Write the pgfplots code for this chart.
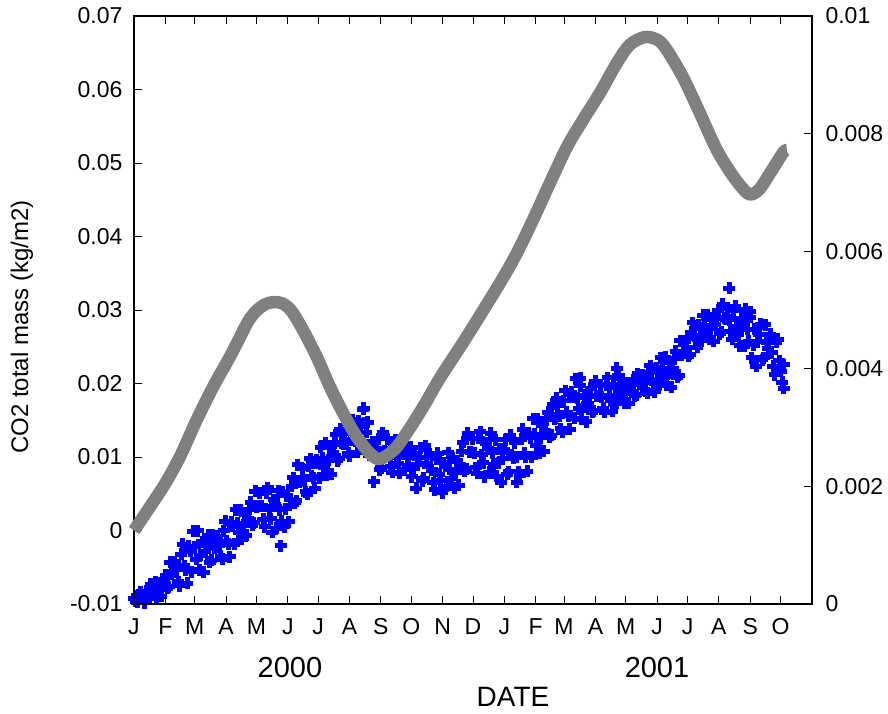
\documentclass[border=0pt]{standalone}
\usepackage{pgfplots}
\pgfplotsset{compat=1.18}
\usepackage{fontspec}
\setmainfont{Liberation Sans}
\definecolor{graycurve}{RGB}{128,128,128}
\definecolor{bluepts}{RGB}{0,0,255}
\pgfplotstableread{
d r
0 0.09e-3
3 0.03e-3
6 0.20e-3
9 0.09e-3
12 0.22e-3
15 0.09e-3
18 0.25e-3
21 0.38e-3
24 0.24e-3
27 0.13e-3
30 0.41e-3
33 0.27e-3
36 0.71e-3
39 0.55e-3
42 0.58e-3
45 0.31e-3
48 1.02e-3
51 0.58e-3
54 0.98e-3
57 0.55e-3
60 0.97e-3
63 1.25e-3
66 0.83e-3
69 0.54e-3
72 1.03e-3
75 0.71e-3
78 1.17e-3
81 0.97e-3
84 1.00e-3
87 0.76e-3
90 1.41e-3
93 1.02e-3
96 1.39e-3
99 1.02e-3
102 1.37e-3
105 1.60e-3
108 1.34e-3
111 1.17e-3
114 1.61e-3
117 1.34e-3
120 1.92e-3
123 1.66e-3
126 1.67e-3
129 1.31e-3
132 1.98e-3
135 1.45e-3
138 1.77e-3
141 1.29e-3
144 1.60e-3
145 0.99e-3
147 1.91e-3
150 1.62e-3
153 1.40e-3
156 2.00e-3
159 1.72e-3
162 2.37e-3
165 2.09e-3
168 2.11e-3
171 1.87e-3
174 2.47e-3
177 2.14e-3
180 2.45e-3
183 2.14e-3
186 2.48e-3
189 2.74e-3
192 2.45e-3
195 2.21e-3
198 2.74e-3
201 2.44e-3
204 2.97e-3
207 2.72e-3
210 2.73e-3
213 2.52e-3
216 3.13e-3
219 2.78e-3
222 3.12e-3
225 2.76e-3
227 3.33e-3
228 3.08e-3
231 3.09e-3
234 2.53e-3
237 2.08e-3
240 2.65e-3
243 2.28e-3
246 2.91e-3
249 2.59e-3
252 2.55e-3
255 2.24e-3
258 2.79e-3
261 2.39e-3
264 2.61e-3
267 2.29e-3
270 2.49e-3
273 2.67e-3
276 2.32e-3
279 1.97e-3
282 2.50e-3
285 2.10e-3
288 2.69e-3
291 2.33e-3
294 2.28e-3
297 1.94e-3
300 2.56e-3
303 2.10e-3
306 2.40e-3
309 2.00e-3
312 2.29e-3
315 2.49e-3
318 2.23e-3
321 2.02e-3
324 2.60e-3
327 2.26e-3
330 2.90e-3
333 2.58e-3
336 2.56e-3
339 2.22e-3
342 2.93e-3
345 2.40e-3
348 2.73e-3
351 2.24e-3
354 2.57e-3
357 2.79e-3
360 2.40e-3
363 2.07e-3
366 2.63e-3
369 2.21e-3
372 2.87e-3
375 2.49e-3
378 2.50e-3
378 2.07e-3
381 2.18e-3
384 2.97e-3
387 2.50e-3
390 2.90e-3
393 2.50e-3
396 2.89e-3
399 3.15e-3
402 2.83e-3
405 2.60e-3
408 3.13e-3
411 2.84e-3
414 3.40e-3
417 3.17e-3
418 3.50e-3
420 3.19e-3
423 2.92e-3
426 3.63e-3
429 3.20e-3
432 3.60e-3
435 3.16e-3
438 3.51e-3
441 3.71e-3
441 3.84e-3
444 3.35e-3
447 3.10e-3
450 3.55e-3
453 3.26e-3
456 3.79e-3
459 3.53e-3
462 3.52e-3
465 3.26e-3
468 3.85e-3
471 3.46e-3
474 3.74e-3
477 3.41e-3
477 4.01e-3
480 3.66e-3
483 3.82e-3
486 3.58e-3
489 3.41e-3
492 3.73e-3
495 3.54e-3
498 3.92e-3
501 3.76e-3
504 3.77e-3
507 3.58e-3
510 4.05e-3
513 3.76e-3
516 4.02e-3
519 3.72e-3
522 4.00e-3
525 4.20e-3
528 3.93e-3
531 3.69e-3
534 4.17e-3
537 3.86e-3
540 4.48e-3
543 4.30e-3
546 4.37e-3
549 4.25e-3
552 4.78e-3
555 4.51e-3
558 4.75e-3
561 4.48e-3
564 4.74e-3
567 4.92e-3
570 4.68e-3
573 4.47e-3
576 4.88e-3
579 4.60e-3
582 5.10e-3
585 4.84e-3
588 4.83e-3
588 5.37e-3
591 4.50e-3
594 5.06e-3
597 4.59e-3
600 4.86e-3
603 4.38e-3
606 4.67e-3
609 4.88e-3
609 4.97e-3
612 4.41e-3
615 4.04e-3
618 4.59e-3
621 4.15e-3
624 4.75e-3
627 4.35e-3
630 4.27e-3
633 3.90e-3
636 4.50e-3
639 3.96e-3
642 4.07e-3
642 3.67e-3
}\bluedata
\pgfplotstableread{
d r
1.5 0.05e-3
4.5 0.15e-3
7.5 0.11e-3
10.5 0.02e-3
13.5 0.20e-3
16.5 0.34e-3
19.5 0.17e-3
22.5 0.12e-3
25.5 0.34e-3
28.5 0.30e-3
31.5 0.49e-3
34.5 0.29e-3
37.5 0.51e-3
40.5 0.72e-3
43.5 0.38e-3
46.5 0.85e-3
49.5 0.65e-3
52.5 0.35e-3
55.5 0.90e-3
58.5 1.24e-3
61.5 0.76e-3
64.5 0.58e-3
67.5 1.06e-3
70.5 0.90e-3
73.5 1.17e-3
76.5 0.74e-3
79.5 0.95e-3
82.5 1.15e-3
85.5 0.81e-3
88.5 1.25e-3
91.5 1.07e-3
94.5 0.80e-3
97.5 1.32e-3
100.5 1.60e-3
103.5 1.21e-3
106.5 1.10e-3
109.5 1.52e-3
112.5 1.45e-3
115.5 1.73e-3
118.5 1.38e-3
121.5 1.65e-3
124.5 1.88e-3
127.5 1.44e-3
130.5 1.89e-3
133.5 1.60e-3
136.5 1.22e-3
139.5 1.69e-3
142.5 1.93e-3
145.5 1.41e-3
148.5 1.31e-3
151.5 1.84e-3
154.5 1.77e-3
157.5 2.15e-3
160.5 1.76e-3
163.5 2.08e-3
166.5 2.30e-3
169.5 1.91e-3
172.5 2.34e-3
175.5 2.17e-3
178.5 1.97e-3
181.5 2.39e-3
184.5 2.67e-3
187.5 2.32e-3
190.5 2.19e-3
193.5 2.67e-3
196.5 2.57e-3
199.5 2.88e-3
202.5 2.47e-3
205.5 2.73e-3
208.5 2.90e-3
211.5 2.56e-3
214.5 2.96e-3
217.5 2.82e-3
220.5 2.58e-3
223.5 3.05e-3
226.5 3.31e-3
229.5 2.92e-3
232.5 2.53e-3
235.5 2.76e-3
238.5 2.48e-3
241.5 2.81e-3
244.5 2.32e-3
247.5 2.61e-3
250.5 2.81e-3
253.5 2.34e-3
256.5 2.73e-3
259.5 2.49e-3
262.5 2.22e-3
265.5 2.56e-3
268.5 2.71e-3
271.5 2.35e-3
274.5 2.16e-3
277.5 2.53e-3
280.5 2.37e-3
283.5 2.66e-3
286.5 2.14e-3
289.5 2.39e-3
292.5 2.55e-3
295.5 2.06e-3
298.5 2.47e-3
301.5 2.21e-3
304.5 1.89e-3
307.5 2.34e-3
310.5 2.57e-3
313.5 2.13e-3
316.5 1.97e-3
319.5 2.44e-3
322.5 2.38e-3
325.5 2.75e-3
328.5 2.30e-3
331.5 2.59e-3
334.5 2.81e-3
337.5 2.32e-3
340.5 2.82e-3
343.5 2.54e-3
346.5 2.16e-3
349.5 2.65e-3
352.5 2.90e-3
355.5 2.38e-3
358.5 2.17e-3
361.5 2.63e-3
364.5 2.47e-3
367.5 2.79e-3
370.5 2.25e-3
373.5 2.54e-3
376.5 2.74e-3
379.5 2.25e-3
382.5 2.80e-3
385.5 2.56e-3
388.5 2.26e-3
391.5 2.83e-3
394.5 3.15e-3
397.5 2.70e-3
400.5 2.56e-3
403.5 3.04e-3
406.5 2.95e-3
409.5 3.26e-3
412.5 2.87e-3
415.5 3.14e-3
418.5 3.37e-3
421.5 2.98e-3
424.5 3.46e-3
427.5 3.26e-3
430.5 2.97e-3
433.5 3.52e-3
436.5 3.83e-3
439.5 3.32e-3
442.5 3.14e-3
445.5 3.55e-3
448.5 3.41e-3
451.5 3.67e-3
454.5 3.29e-3
457.5 3.54e-3
460.5 3.72e-3
463.5 3.33e-3
466.5 3.73e-3
469.5 3.54e-3
472.5 3.28e-3
475.5 3.68e-3
478.5 3.89e-3
481.5 3.53e-3
484.5 3.42e-3
487.5 3.72e-3
490.5 3.64e-3
493.5 3.81e-3
496.5 3.56e-3
499.5 3.74e-3
502.5 3.89e-3
505.5 3.63e-3
508.5 3.94e-3
511.5 3.81e-3
514.5 3.61e-3
517.5 3.97e-3
520.5 4.19e-3
523.5 3.85e-3
526.5 3.72e-3
529.5 4.11e-3
532.5 4.01e-3
535.5 4.30e-3
538.5 3.89e-3
541.5 4.23e-3
544.5 4.47e-3
547.5 4.21e-3
550.5 4.62e-3
553.5 4.55e-3
556.5 4.37e-3
559.5 4.70e-3
562.5 4.91e-3
565.5 4.61e-3
568.5 4.50e-3
571.5 4.84e-3
574.5 4.75e-3
577.5 5.00e-3
580.5 4.63e-3
583.5 4.86e-3
586.5 5.03e-3
589.5 4.63e-3
592.5 4.99e-3
595.5 4.72e-3
598.5 4.39e-3
601.5 4.79e-3
604.5 5.01e-3
607.5 4.47e-3
610.5 4.19e-3
613.5 4.67e-3
616.5 4.46e-3
619.5 4.76e-3
622.5 4.19e-3
625.5 4.44e-3
628.5 4.59e-3
631.5 4.04e-3
634.5 4.45e-3
637.5 4.14e-3
640.5 3.77e-3
}\bluedatab
\begin{document}
\begin{tikzpicture}
\pgfplotsset{
  common/.style={
    scale only axis, width=678pt, height=588pt,
    xmin=0, xmax=670,
    scaled x ticks=false, scaled y ticks=false,
    major tick length=8pt,
    tick style={line width=1pt, black},
    axis line style={line width=1.2pt},
    /pgf/number format/assume math mode=true,
    tick label style={font=\fontsize{23}{26}\selectfont},
  },
  bluemarks/.style={only marks, mark=+, mark size=6pt, color=bluepts, mark options={line width=5pt}},
}
\begin{axis}[common,
  ymin=0, ymax=0.01,
  axis x line=none, axis y line*=right,
  xtick=\empty,
  ytick={0,0.002,0.004,0.006,0.008,0.01},
  yticklabels={0,0.002,0.004,0.006,0.008,0.01},
  yticklabel style={xshift=10pt},
  clip=false]
\addplot[bluemarks] table[x=d,y=r] {\bluedata};
\addplot[bluemarks] table[x=d,y=r] {\bluedatab};
\end{axis}
\begin{axis}[common, name=ax,
  ymin=-0.01, ymax=0.07,
  ytick={-0.01,0,0.01,0.02,0.03,0.04,0.05,0.06,0.07},
  yticklabels={-0.01,0,0.01,0.02,0.03,0.04,0.05,0.06,0.07},
  ytick pos=left,
  yticklabel style={xshift=-8pt},
  xtick={0,31,60,91,121,152,182,213,244,274,305,335,366,397,425,456,486,517,547,578,609,639},
  xticklabels={J,F,M,A,M,J,J,A,S,O,N,D,J,F,M,A,M,J,J,A,S,O},
  xtick pos=both,
  xticklabel style={yshift=-11pt},
  clip=false]
\addplot[graycurve, line width=12.5pt, smooth, line join=round] coordinates {
(0,0.0000) (28.9,0.00596) (45.4,0.01004) (61.9,0.01503) (78.3,0.01957) (94.8,0.02365)
(104.7,0.0263) (113.0,0.0285) (121.0,0.0299) (130.0,0.0308) (139.3,0.03109) (148.0,0.0308) (156.0,0.0298) (167.0,0.02728)
(180.5,0.02365) (193.6,0.01957) (206.8,0.01595) (220.0,0.01276) (233.2,0.0105)
(243.0,0.00973) (257.9,0.01109) (272.7,0.01395) (287.5,0.01721) (302.3,0.02075)
(328.0,0.02619) (361.6,0.03367) (378.4,0.03776) (394.2,0.04224) (411.0,0.04728)
(427.8,0.05218) (443.6,0.05585) (460.4,0.05952) (477.2,0.06361) (490.0,0.06610)
(504.9,0.06714) (517.7,0.06673) (526.6,0.06537) (542.4,0.0617) (559.2,0.0568)
(576.0,0.05177) (592.6,0.0481) (607.4,0.04578) (617.3,0.04633) (626.2,0.0481)
(641.2,0.05136) (645.2,0.05177)
};
\end{axis}
\path (ax.south west) ++(-112pt,277pt) node[rotate=90, font=\fontsize{24}{28}\selectfont] {CO2 total mass (kg/m2)};
\path (ax.south west) ++(156pt,-64pt) node[font=\fontsize{29}{33}\selectfont] {2000};
\path (ax.south west) ++(523pt,-64pt) node[font=\fontsize{29}{33}\selectfont] {2001};
\path (ax.south west) ++(379pt,-93pt) node[font=\fontsize{28}{32}\selectfont] {DATE};
\pgfresetboundingbox
\path[use as bounding box] (ax.south west) ++(-134pt,-109pt) rectangle ++(888pt,713pt);
\end{tikzpicture}
\end{document}
